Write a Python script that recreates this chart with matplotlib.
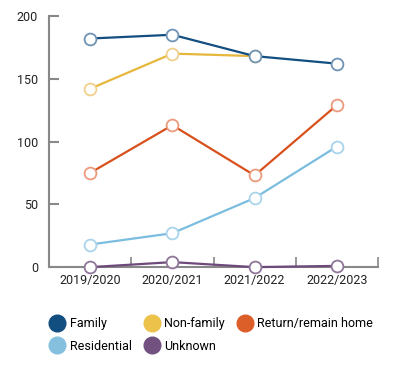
import matplotlib.pyplot as plt
import numpy as np
from matplotlib.lines import Line2D

plt.rcParams['font.family'] = ['Roboto', 'DejaVu Sans']

# Dati
anni = ["2019/2020", "2020/2021", "2021/2022", "2022/2023"]
family = [182, 185, 168, 162]
non_family = [142, 170, 168, np.nan]
return_home = [75, 113, 73, 129]
residential = [18, 27, 55, 96]
unknown = [0, 4, 0, 1]

serie = [
    ("Family", family, "#124e80", "#6f93b5"),
    ("Non-family", non_family, "#e6b73c", "#f0d08c"),
    ("Return/remain home", return_home, "#d8501c", "#ec9a7c"),
    ("Residential", residential, "#7bbddf", "#a9d4eb"),
    ("Unknown", unknown, "#6e4a7a", "#8f7599"),
]
colori_legenda = ["#124e80", "#ecc24a", "#dc5f2a", "#85c1df", "#725181"]

fig = plt.figure(figsize=(4, 3.7), dpi=100)
ax = fig.add_axes([0.1225, 0.278, 0.8225, 0.679])

x = np.arange(len(anni))
# Family disegnata per ultima (sopra le altre)
for k, (nome, valori, colore, bordo) in enumerate(serie):
    ax.plot(x, valori, color=colore, lw=1.6, marker="o", markersize=8.5,
            markerfacecolor="white", markeredgecolor=bordo, markeredgewidth=1.3,
            clip_on=False, zorder=10 - k)

ax.set_xlim(-0.5, 3.5)
ax.set_ylim(0, 200)
ax.set_yticks([0, 50, 100, 150, 200])
ax.set_xticks([0.5, 1.5, 2.5, 3.5])
ax.set_xticklabels([])
ax.set_xticks(x, minor=True)
ax.set_xticklabels(anni, minor=True)
ax.tick_params(axis="x", which="minor", length=0, pad=5, labelsize=9, labelcolor="#222222")
ax.tick_params(axis="x", which="major", direction="in", length=7, width=1.2, color="#888888")
ax.tick_params(axis="y", direction="in", length=7, width=1.5, color="#888888",
               labelsize=9, labelcolor="#222222", pad=8)
for s in ["top", "right"]:
    ax.spines[s].set_visible(False)
for s in ["left", "bottom"]:
    ax.spines[s].set_color("#888888")
    ax.spines[s].set_linewidth(1.5)

nomi = [s[0] for s in serie]
maniglie = [Line2D([], [], ls="", marker="o", markersize=12, color=c) for c in colori_legenda]
ordine = [0, 3, 1, 4, 2]
fig.legend([maniglie[i] for i in ordine], [nomi[i] for i in ordine], ncol=3,
           loc="upper left", bbox_to_anchor=(0.1275, 0.142), frameon=False,
           fontsize=9, handlelength=1.0, handletextpad=0.5, columnspacing=1.1,
           labelspacing=0.75, borderaxespad=0, borderpad=0)

fig.savefig("out.png", dpi=100)
